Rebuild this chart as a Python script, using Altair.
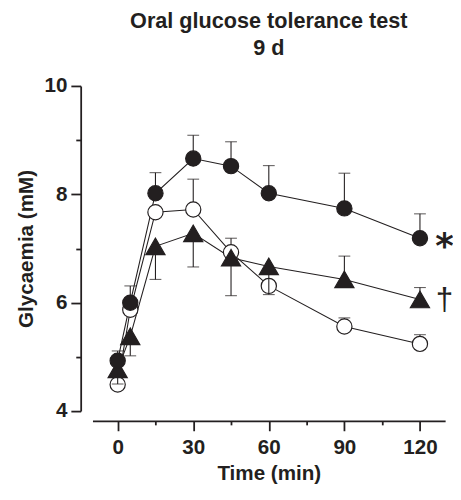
import altair as alt
import pandas as pd

# ---- data ----
time = [0, 5, 15, 30, 45, 60, 90, 120]

filled_mean = [4.93, 6.00, 8.02, 8.66, 8.52, 8.02, 7.74, 7.19]
filled_sem = [0.18, 0.31, 0.38, 0.43, 0.45, 0.51, 0.65, 0.45]
filled_dir = [1, 1, 1, 1, 1, 1, 1, 1]

open_mean = [4.49, 5.87, 7.67, 7.72, 6.93, 6.31, 5.56, 5.24]
open_sem = [0.0, 0.0, 0.0, 0.56, 0.26, 0.0, 0.16, 0.17]
open_dir = [1, 1, 1, 1, 1, 1, 1, 1]

tri_mean = [4.77, 5.38, 7.04, 7.28, 6.83, 6.67, 6.43, 6.06]
tri_sem = [0.27, 0.36, 0.61, 0.62, 0.70, 0.52, 0.43, 0.22]
tri_dir = [-1, -1, -1, -1, -1, -1, 1, 1]

series = ["filled", "open", "triangle"]
marks = ["*", "", "†"]
x_ticks = [0, 30, 60, 90, 120]
x_minor = [15, 45, 75, 105]
y_ticks = [4, 6, 8, 10]
y_minor = [5, 7, 9]

rows = []
for name, m, s, d in [("filled", filled_mean, filled_sem, filled_dir),
                      ("open", open_mean, open_sem, open_dir),
                      ("triangle", tri_mean, tri_sem, tri_dir)]:
    for t, mv, sv, dv in zip(time, m, s, d):
        rows.append({"series": name, "t": t, "mean": mv, "sem": sv,
                     "end": mv + dv * sv})
df = pd.DataFrame(rows)

ann = pd.DataFrame({
    "series": series,
    "t": [time[-1]] * 3,
    "mean": [filled_mean[-1], open_mean[-1], tri_mean[-1]],
    "mark": marks,
})

INK = "#231f20"
FONT = "Liberation Sans"

xscale = alt.Scale(domain=[-10, 130], nice=False, zero=False)
yscale = alt.Scale(domain=[4, 10], nice=False, zero=False)
X = alt.X("t:Q", scale=xscale, axis=None)
Y = alt.Y("mean:Q", scale=yscale, axis=None)

x_main = alt.X("t:Q", scale=xscale, axis=alt.Axis(
    values=x_ticks, title="Time (min)", tickSize=10, offset=10, orient="bottom",
    labelPadding=6, titlePadding=6))
y_main = alt.Y("mean:Q", scale=yscale, axis=alt.Axis(
    values=y_ticks, title="Glycaemia (mM)", tickSize=10, offset=12, orient="left",
    labelPadding=4, titlePadding=8))

base = alt.Chart(df)

lines = base.mark_line(color=INK, strokeWidth=1.1).encode(
    x=x_main, y=y_main, detail="series:N")

# minor-tick axes carried by an invisible layer
minor = base.mark_point(opacity=0, size=1).encode(
    x=alt.X("t:Q", scale=xscale, axis=alt.Axis(
        values=x_minor, labels=False, domain=False, tickSize=4, offset=10,
        orient="bottom", title=None)),
    y=alt.Y("mean:Q", scale=yscale, axis=alt.Axis(
        values=y_minor, labels=False, domain=False, tickSize=5, offset=12,
        orient="left", title=None)))

def errbars(names):
    sel = base.transform_filter("datum.sem > 0").transform_filter(
        alt.FieldOneOfPredicate(field="series", oneOf=names))
    rule = sel.mark_rule(color=INK, strokeWidth=1.1).encode(x=X, y=Y, y2="end:Q")
    cap = sel.mark_tick(color=INK, orient="horizontal", size=12,
                        thickness=1.1).encode(
        x=X, y=alt.Y("end:Q", scale=yscale, axis=None))
    return rule, cap

def pts(name, shape, fill, size):
    return base.transform_filter(alt.datum.series == name).mark_point(
        shape=shape, filled=True, fill=fill, stroke=INK, strokeWidth=1.2,
        size=size, opacity=1).encode(x=X, y=Y)

e1r, e1c = errbars(["filled", "open"])
e2r, e2c = errbars(["triangle"])

p_open = pts("open", "circle", "white", 240)
p_tri = pts("triangle", "triangle-up", INK, 380)
p_fill = pts("filled", "circle", INK, 240)

star = alt.Chart(ann).transform_filter(alt.datum.series == "filled").mark_text(
    font="DejaVu Sans", fontWeight="bold", fontSize=36, color=INK,
    align="center", baseline="alphabetic", dx=25, dy=20).encode(
    x=X, y=Y, text="mark:N")

dag = alt.Chart(ann).transform_filter(alt.datum.series == "triangle").mark_text(
    font=FONT, fontSize=32, color=INK,
    align="center", baseline="alphabetic", dx=25, dy=11).encode(
    x=X, y=Y, text="mark:N")

chart = alt.layer(lines, minor, e1r, e1c, p_open, e2r, e2c, p_tri, p_fill,
                  star, dag).resolve_axis(
    x="independent", y="independent"
).properties(
    width=359, height=331,
    autosize=alt.AutoSizeParams(type="none"),
    padding={"left": 86, "top": 75, "right": 8, "bottom": 78},
    title=alt.TitleParams(["Oral glucose tolerance test", "9 d"], font=FONT,
                          fontSize=22, fontWeight="bold", color=INK,
                          lineHeight=28, offset=15, anchor="middle"),
).configure_view(stroke=None).configure_axis(
    grid=False, domainColor=INK, tickColor=INK, domainWidth=1.8, tickWidth=1.8,
    labelFont=FONT, labelFontSize=21, labelFontWeight="bold", labelColor=INK,
    titleFont=FONT, titleFontSize=21, titleFontWeight="bold", titleColor=INK,
)

chart.save("out.html", embed_options={"renderer": "svg", "actions": False})
